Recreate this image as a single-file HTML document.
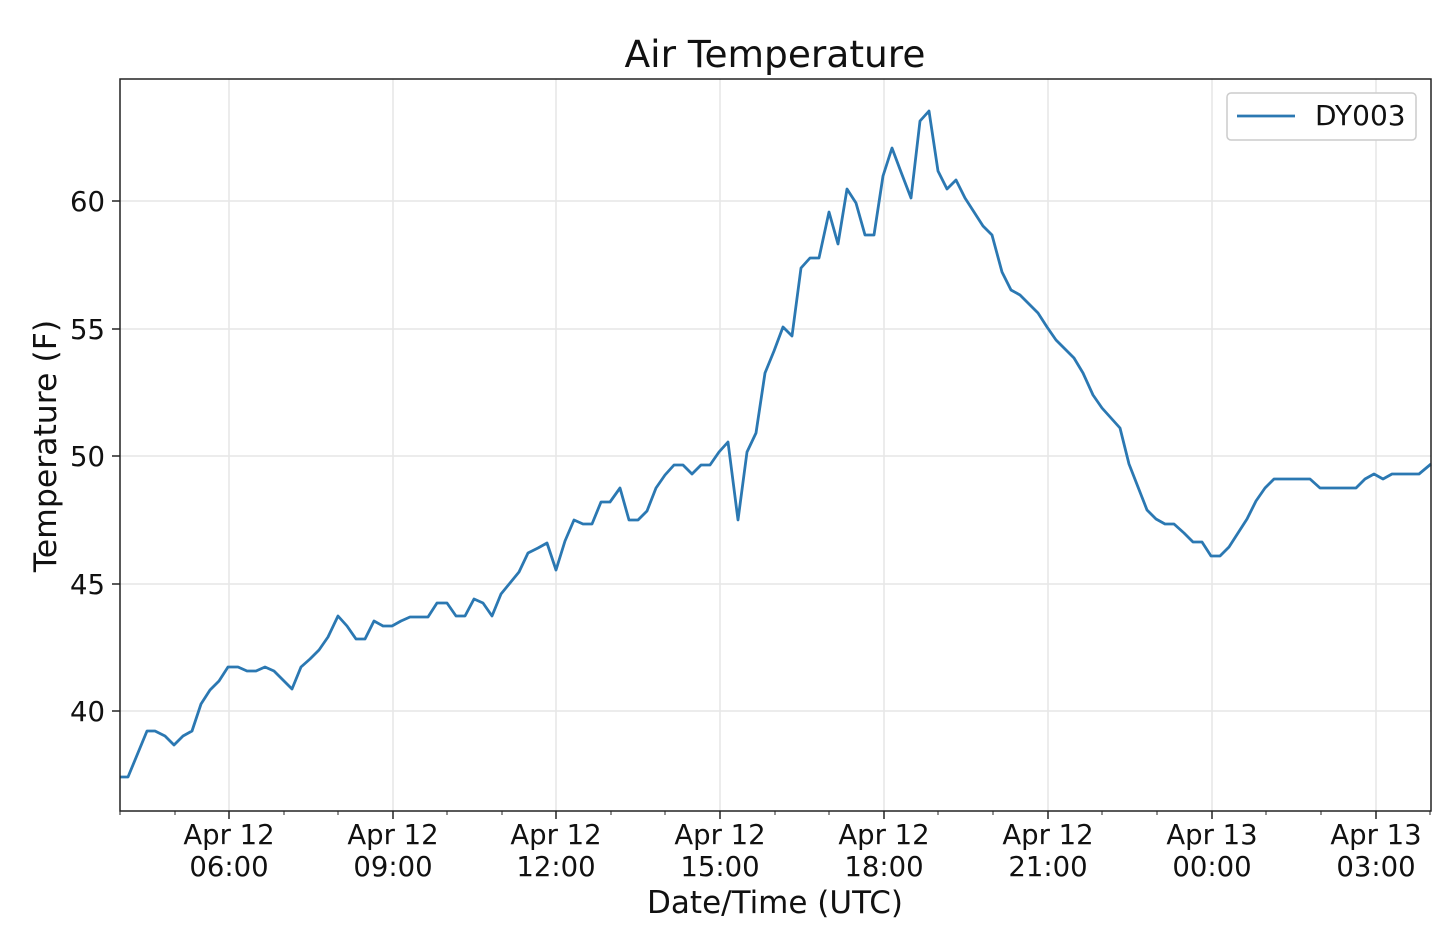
<!DOCTYPE html>
<html><head><meta charset="utf-8"><style>
html,body{margin:0;padding:0;background:#fff;}
svg{display:block;font-family:"DejaVu Sans","Liberation Sans",sans-serif;}
</style></head><body>
<svg width="1440" height="940" viewBox="0 0 1440 940" xmlns="http://www.w3.org/2000/svg">
<rect width="1440" height="940" fill="#fff"/>
<g stroke="#e6e6e6" stroke-width="1.5">
<line x1="229" y1="79" x2="229" y2="811"/><line x1="393" y1="79" x2="393" y2="811"/>
<line x1="556" y1="79" x2="556" y2="811"/><line x1="720" y1="79" x2="720" y2="811"/>
<line x1="884" y1="79" x2="884" y2="811"/><line x1="1048" y1="79" x2="1048" y2="811"/>
<line x1="1212" y1="79" x2="1212" y2="811"/><line x1="1376" y1="79" x2="1376" y2="811"/>
<line x1="120" y1="201" x2="1431" y2="201"/><line x1="120" y1="329" x2="1431" y2="329"/>
<line x1="120" y1="456" x2="1431" y2="456"/><line x1="120" y1="584" x2="1431" y2="584"/>
<line x1="120" y1="711" x2="1431" y2="711"/>
</g>
<polyline fill="none" stroke="#2b78b2" stroke-width="2.8" stroke-linejoin="round" points="120,777 128,777 147,731 155,731 165,736 174,745 183,736 192,731 201,704 210,690 219,681 228,667 238,667 247,671 256,671 265,667 274,671 283,680 292,689 301,667 310,659 319,650 328,637 338,616 347,626 356,639 365,639 374,621 383,626 392,626 401,621 410,617 419,617 428,617 437,603 447,603 456,616 465,616 474,599 483,603 492,616 501,594 510,583 519,572 528,553 538,548 547,543 556,570 565,541 574,520 583,524 592,524 601,502 610,502 620,488 629,520 638,520 647,511 656,488 665,475 674,465 683,465 692,474 701,465 710,465 719,452 728,442 738,520 747,452 756,433 765,373 774,351 783,327 792,336 801,268 810,258 819,258 829,212 838,244 847,189 856,203 865,235 874,235 883,176 892,148 901,172 911,198 920,121 929,111 938,171 947,189 956,180 965,198 974,212 983,226 992,235 1002,272 1011,290 1020,295 1029,304 1038,313 1047,327 1056,340 1065,349 1074,358 1083,373 1093,395 1102,408 1111,418 1120,428 1129,464 1138,487 1147,510 1156,519 1165,524 1174,524 1184,533 1193,542 1202,542 1211,556 1220,556 1229,547 1238,533 1247,519 1256,501 1265,488 1274,479 1283,479 1292,479 1301,479 1310,479 1320,488 1329,488 1338,488 1347,488 1356,488 1365,479 1374,474 1383,479 1392,474 1401,474 1410,474 1419,474 1431,464"/>
<rect x="120" y="79" width="1311" height="732" fill="none" stroke="#222" stroke-width="1.5"/>
<g stroke="#222" stroke-width="1.5">
<line x1="229" y1="811" x2="229" y2="819"/><line x1="393" y1="811" x2="393" y2="819"/>
<line x1="556" y1="811" x2="556" y2="819"/><line x1="720" y1="811" x2="720" y2="819"/>
<line x1="884" y1="811" x2="884" y2="819"/><line x1="1048" y1="811" x2="1048" y2="819"/>
<line x1="1212" y1="811" x2="1212" y2="819"/><line x1="1376" y1="811" x2="1376" y2="819"/>
<line x1="112" y1="201" x2="120" y2="201"/><line x1="112" y1="329" x2="120" y2="329"/>
<line x1="112" y1="456" x2="120" y2="456"/><line x1="112" y1="584" x2="120" y2="584"/>
<line x1="112" y1="711" x2="120" y2="711"/>
</g>
<g stroke="#222" stroke-width="1">
<line x1="120" y1="811" x2="120" y2="815"/><line x1="175" y1="811" x2="175" y2="815"/><line x1="284" y1="811" x2="284" y2="815"/><line x1="338" y1="811" x2="338" y2="815"/><line x1="447" y1="811" x2="447" y2="815"/><line x1="502" y1="811" x2="502" y2="815"/><line x1="611" y1="811" x2="611" y2="815"/><line x1="665" y1="811" x2="665" y2="815"/><line x1="775" y1="811" x2="775" y2="815"/><line x1="829" y1="811" x2="829" y2="815"/><line x1="938" y1="811" x2="938" y2="815"/><line x1="993" y1="811" x2="993" y2="815"/><line x1="1102" y1="811" x2="1102" y2="815"/><line x1="1157" y1="811" x2="1157" y2="815"/><line x1="1266" y1="811" x2="1266" y2="815"/><line x1="1321" y1="811" x2="1321" y2="815"/><line x1="1430" y1="811" x2="1430" y2="815"/>
</g>
<g font-size="27.5" fill="#111" text-anchor="end">
<text x="105" y="211">60</text><text x="105" y="339">55</text><text x="105" y="466">50</text>
<text x="105" y="594">45</text><text x="105" y="721">40</text>
</g>
<g font-size="27.5" fill="#111" text-anchor="middle">
<text x="229" y="844">Apr 12</text><text x="229" y="876">06:00</text>
<text x="393" y="844">Apr 12</text><text x="393" y="876">09:00</text>
<text x="556" y="844">Apr 12</text><text x="556" y="876">12:00</text>
<text x="720" y="844">Apr 12</text><text x="720" y="876">15:00</text>
<text x="884" y="844">Apr 12</text><text x="884" y="876">18:00</text>
<text x="1048" y="844">Apr 12</text><text x="1048" y="876">21:00</text>
<text x="1212" y="844">Apr 13</text><text x="1212" y="876">00:00</text>
<text x="1376" y="844">Apr 13</text><text x="1376" y="876">03:00</text>
<text x="775" y="913" font-size="31">Date/Time (UTC)</text>
<text x="775" y="67" font-size="37.5">Air Temperature</text>
<text transform="translate(56,446) rotate(-90)" font-size="31.5">Temperature (F)</text>
</g>
<rect x="1227" y="93" width="189" height="47" rx="4" fill="#fff" stroke="#ccc" stroke-width="1.5"/>
<line x1="1237" y1="116" x2="1295" y2="116" stroke="#2b78b2" stroke-width="2.8"/>
<text x="1315" y="125" font-size="28" fill="#111">DY003</text>
</svg>
</body></html>
